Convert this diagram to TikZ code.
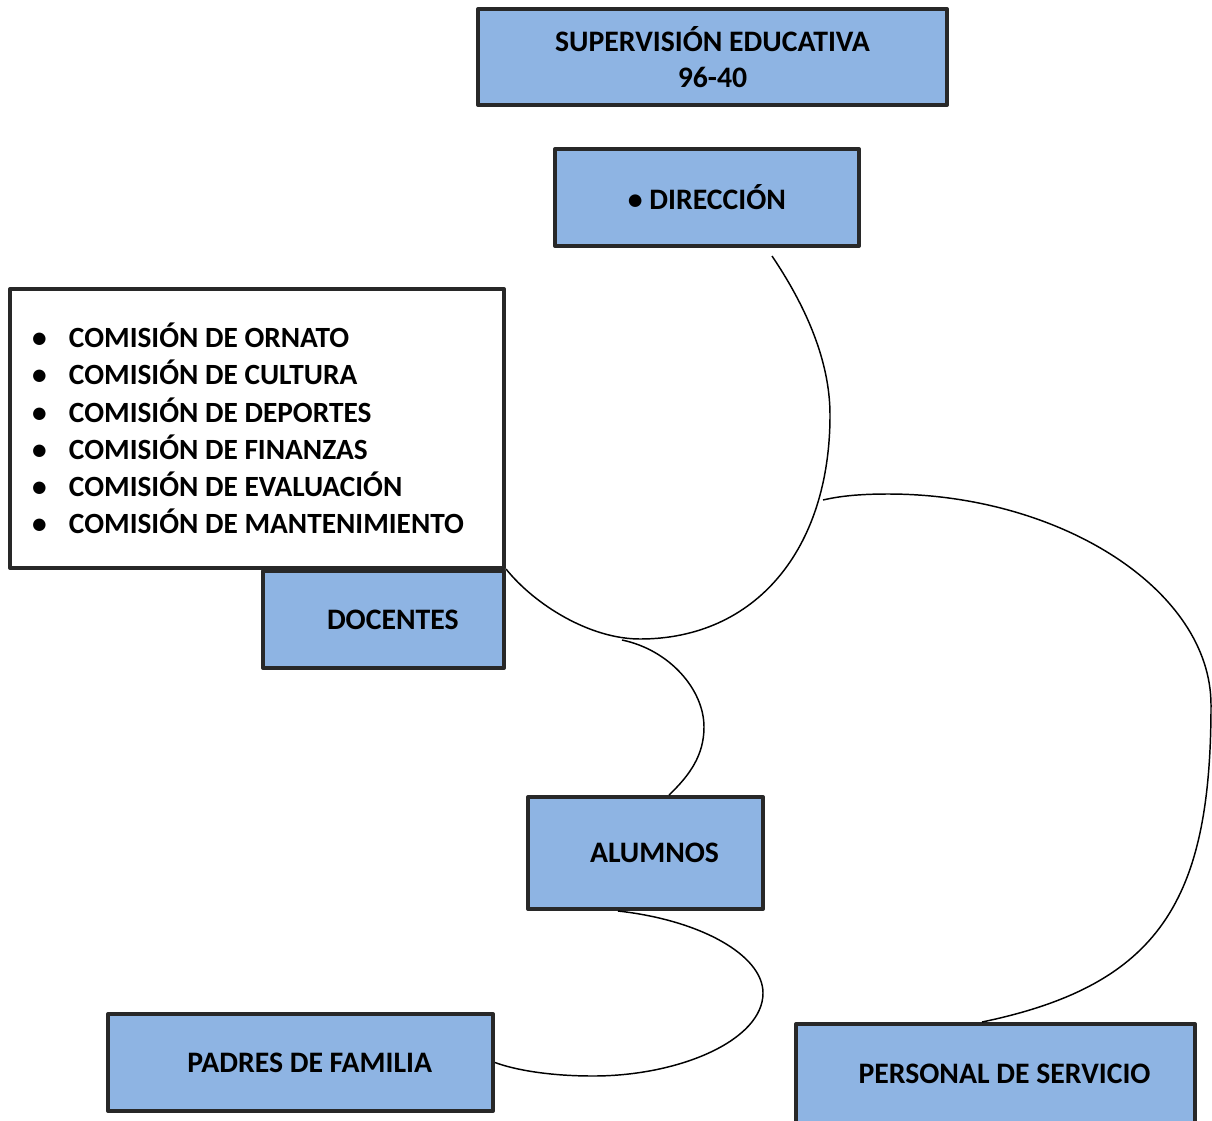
\documentclass[tikz,border=0pt]{standalone}
\usepackage{fontspec}
\setmainfont{Carlito}
\usetikzlibrary{calc}
\definecolor{boxblue}{RGB}{142,180,227}
\definecolor{edgegray}{RGB}{40,40,40}
\begin{document}
\begin{tikzpicture}[x=0.75pt,y=-0.75pt,
  box/.style={draw=edgegray, line width=3pt, line join=round, fill=boxblue, inner sep=0pt,
    font=\fontsize{22.3}{27}\selectfont\bfseries, align=center},
  sz/.style 2 args={minimum width=#1*0.75pt, minimum height=#2*0.75pt},
  link/.style={draw=black, line width=1.1pt}]
\useasboundingbox (0,0) rectangle (1212,1120);
\clip (0,0) rectangle (1212,1120);

% boxes
\node[box, sz={469}{96}] (sup) at (712.5,57) {SUPERVISIÓN EDUCATIVA\\96-40};
\node[box, sz={304}{97}] (dir) at (707,197.5) {• DIRECCIÓN};
\node[box, fill=white, sz={494}{279}, align=left, text width=337.5pt, inner xsep=16.5pt,
  font=\fontsize{22}{27.9}\selectfont\bfseries] (com) at (257,428.5)
  {\spaceskip=0pt\xspaceskip=0pt\relax
   \makebox[27.75pt][l]{•}COMISIÓN DE ORNATO\\
   \makebox[27.75pt][l]{•}COMISIÓN DE CULTURA\\
   \makebox[27.75pt][l]{•}COMISIÓN DE DEPORTES\\
   \makebox[27.75pt][l]{•}COMISIÓN DE FINANZAS\\
   \makebox[27.75pt][l]{•}COMISIÓN DE EVALUACIÓN\\
   \makebox[27.75pt][l]{•}COMISIÓN DE MANTENIMIENTO};
\node[box, sz={241}{97}] (doc) at (383.5,619.5) {\hspace*{14pt}DOCENTES};
\node[box, sz={235}{112}] (alu) at (645.5,853) {\hspace*{13.5pt}ALUMNOS};
\node[box, sz={385}{97}] (pad) at (300.5,1062.5) {\hspace*{14pt}PADRES DE FAMILIA};
\node[box, sz={399}{110}] (per) at (995.5,1079) {\raisebox{7.5pt}{\hspace*{13.5pt}PERSONAL DE SERVICIO}};

% connector points
\coordinate (c1s) at ($(dir.south)+(65,8)$);
\coordinate (j1) at (622,640);
\coordinate (j2) at (823,500);

% connectors
\draw[link] (c1s) .. controls (805,305) and (830,360) .. (830,415)
  .. controls (830,550) and (755,639) .. (640,639)
  .. controls (590,639) and (535,605) .. (doc.north east);
\draw[link] (j1) .. controls (670,650) and (704,690) .. (704,727)
  .. controls (704,755) and (690,775) .. ($(alu.north)+(23.5,0)$);
\draw[link] (j2) .. controls (840,496) and (860,494) .. (888,494)
  .. controls (1060,494) and (1211,590) .. (1211,705)
  .. controls (1211,900) and (1160,985) .. ($(per.north)+(-13.5,0)$);
\draw[link] ($(alu.south)+(-27.5,0)$) .. controls (700,920) and (763,955) .. (763,993)
  .. controls (763,1040) and (680,1076) .. (593,1076)
  .. controls (550,1076) and (515,1070) .. (pad.east);
\end{tikzpicture}
\end{document}
